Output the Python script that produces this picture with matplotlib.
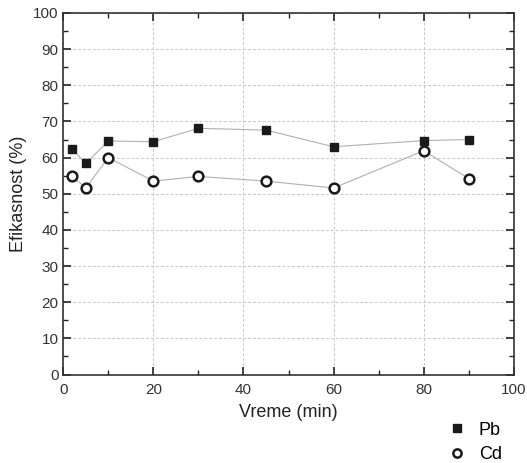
import matplotlib
matplotlib.use("Agg")
import matplotlib.pyplot as plt
from matplotlib.ticker import MultipleLocator

plt.rcParams['font.family'] = ['Liberation Sans', 'DejaVu Sans']

time = [2, 5, 10, 20, 30, 45, 60, 80, 90]
pb = [62.3, 58.4, 64.6, 64.4, 68.1, 67.6, 63.0, 64.7, 65.0]
cd = [54.8, 51.6, 60.0, 53.5, 54.8, 53.5, 51.6, 61.9, 54.2]

fig = plt.figure(figsize=(5.27, 4.63), dpi=100)
ax = fig.add_axes([0.120, 0.191, 0.855, 0.781])

ax.plot(time, pb, color='#b0b0b0', lw=0.8, zorder=2)
ax.plot(time, cd, color='#b0b0b0', lw=0.8, zorder=2)
h1, = ax.plot(time, pb, ls='none', marker='s', ms=6, mfc='#1a1a1a', mec='#1a1a1a', zorder=3, label='Pb')
h2, = ax.plot(time, cd, ls='none', marker='o', ms=7, mfc='white', mec='#1a1a1a', mew=1.8, zorder=3, label='Cd')

ax.set_xlim(0, 100)
ax.set_ylim(0, 100)
ax.xaxis.set_major_locator(MultipleLocator(20))
ax.xaxis.set_minor_locator(MultipleLocator(10))
ax.yaxis.set_major_locator(MultipleLocator(10))
ax.yaxis.set_minor_locator(MultipleLocator(5))
ax.tick_params(which='both', direction='in', top=True, right=True, color='#222222', labelsize=11, labelcolor='#333333')
ax.tick_params(which='major', length=6, width=1.2)
ax.tick_params(which='minor', length=3.5, width=1.0)
ax.tick_params(axis='x', pad=6)
for s in ax.spines.values():
    s.set_linewidth(1.2)
    s.set_color('#333333')
ax.grid(True, which='major', ls=(0, (3, 2)), color='#c8c8c8', lw=0.7)
ax.set_axisbelow(True)

ax.set_xlabel('Vreme (min)', fontsize=13, color='#222222', labelpad=5)
ax.set_ylabel('Efikasnost (%)', fontsize=13, color='#222222', labelpad=4)

fig.legend(handles=[h1, h2], loc='lower right', bbox_to_anchor=(0.952, 0.0),
           frameon=False, fontsize=13, handlelength=1.0, handletextpad=0.7,
           labelspacing=0.4, markerscale=0.85, borderaxespad=0, borderpad=0)

fig.savefig('out.png', dpi=100)
